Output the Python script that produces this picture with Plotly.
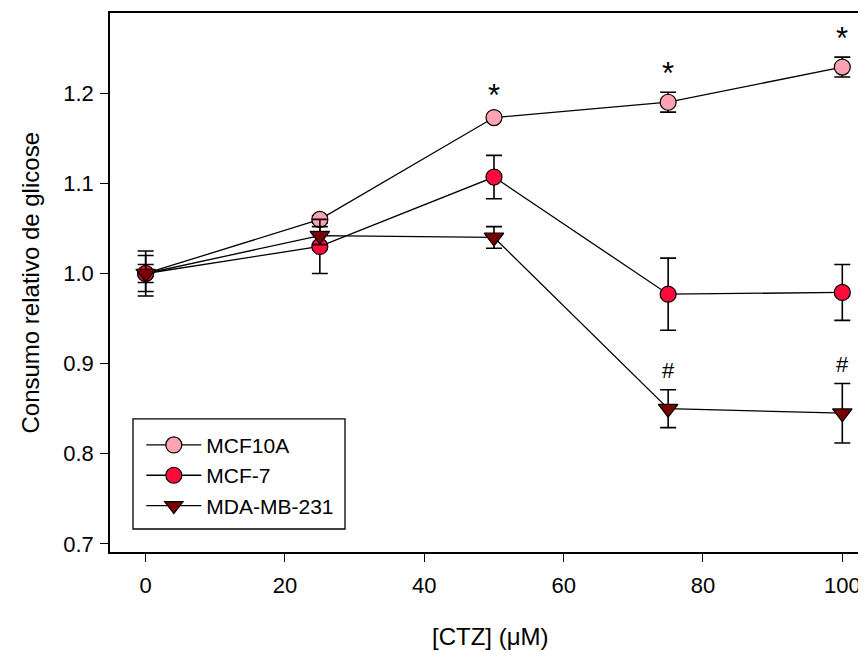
import plotly.graph_objects as go

ctz = [0, 25, 50, 75, 100]
series_names = ["MCF10A", "MCF-7", "MDA-MB-231"]
mcf10a = [1.000, 1.060, 1.173, 1.190, 1.229]
mcf10a_err = [0.010, 0.004, 0.003, 0.011, 0.011]
mcf7 = [1.000, 1.030, 1.107, 0.977, 0.979]
mcf7_err = [0.025, 0.030, 0.024, 0.040, 0.031]
mda = [1.000, 1.042, 1.040, 0.850, 0.845]
mda_err = [0.020, 0.010, 0.012, 0.021, 0.033]

star_x = [50, 75, 100]          # MCF10A significance (*)
hash_x = [75, 100]              # MDA-MB-231 significance (#)

x_ticks = [0, 20, 40, 60, 80, 100]
y_ticks = [0.7, 0.8, 0.9, 1.0, 1.1, 1.2]

FONT = "Arial, Liberation Sans, sans-serif"

fig = go.Figure()
styles = [
    dict(symbol="circle", color="#FFA3B3", size=16),
    dict(symbol="circle", color="#FF0A3C", size=16),
    dict(symbol="triangle-down", color="#7A0000", size=17),
]
for name, ys, es, st in zip(series_names, [mcf10a, mcf7, mda],
                            [mcf10a_err, mcf7_err, mda_err], styles):
    fig.add_trace(go.Scatter(
        x=ctz, y=ys, name=name, mode="lines+markers",
        line=dict(color="black", width=1.3),
        marker=dict(symbol=st["symbol"], color=st["color"], size=st["size"],
                    line=dict(color="black", width=1.2)),
        error_y=dict(type="data", array=es, visible=True, color="black",
                     thickness=1.6, width=8),
    ))

annos = []
for xv in star_x:
    i = ctz.index(xv)
    annos.append(dict(x=xv, y=mcf10a[i] + mcf10a_err[i], xref="x", yref="y",
                      text="*", showarrow=False, yanchor="middle", yshift=19,
                      font=dict(family=FONT, size=31, color="black")))
for xv in hash_x:
    i = ctz.index(xv)
    annos.append(dict(x=xv, y=mda[i] + mda_err[i], xref="x", yref="y",
                      text="#", showarrow=False, yanchor="middle", yshift=19,
                      font=dict(family=FONT, size=22, color="black")))
annos.append(dict(x=-0.1047, y=0.5, xref="paper", yref="paper",
                  text="Consumo relativo de glicose", textangle=-90,
                  showarrow=False, xanchor="center", yanchor="middle",
                  font=dict(family=FONT, size=24, color="black")))
annos.append(dict(x=0.497, y=-0.156, xref="paper", yref="paper",
                  text="[CTZ] (μM)", showarrow=False,
                  xanchor="center", yanchor="middle",
                  font=dict(family=FONT, size=24, color="black")))

fig.update_layout(
    width=866, height=652,
    margin=dict(l=102, r=0, t=5, b=108),
    paper_bgcolor="white", plot_bgcolor="white",
    font=dict(family=FONT, size=22, color="black"),
    showlegend=True,
    legend=dict(x=0.041, y=0.236, xanchor="left", yanchor="top",
                borderwidth=0, bgcolor="rgba(0,0,0,0)",
                font=dict(family=FONT, size=21, color="black"),
                itemwidth=55, tracegroupgap=0),
    shapes=[dict(type="rect", xref="paper", yref="paper",
                 x0=0.0301, x1=0.3076, y0=0.0427, y1=0.2468,
                 line=dict(color="black", width=1.3), fillcolor="rgba(0,0,0,0)",
                 layer="below")],
    annotations=annos,
    xaxis=dict(range=[-5.12, 104.55], tickvals=x_ticks, showgrid=False,
               zeroline=False, showline=True, linecolor="black", linewidth=1.5,
               mirror=True, ticks="outside", ticklen=8, tickwidth=1.3,
               tickcolor="black", ticklabelstandoff=5,
               tickfont=dict(family=FONT, size=22)),
    yaxis=dict(range=[0.691, 1.289], tickvals=y_ticks, tickformat=".1f",
               showgrid=False, zeroline=False, showline=True, linecolor="black",
               linewidth=1.5, mirror=False, ticks="outside", ticklen=8,
               tickwidth=1.3, tickcolor="black", ticklabelstandoff=2,
               tickfont=dict(family=FONT, size=22)),
)

fig.write_html("out.html")
